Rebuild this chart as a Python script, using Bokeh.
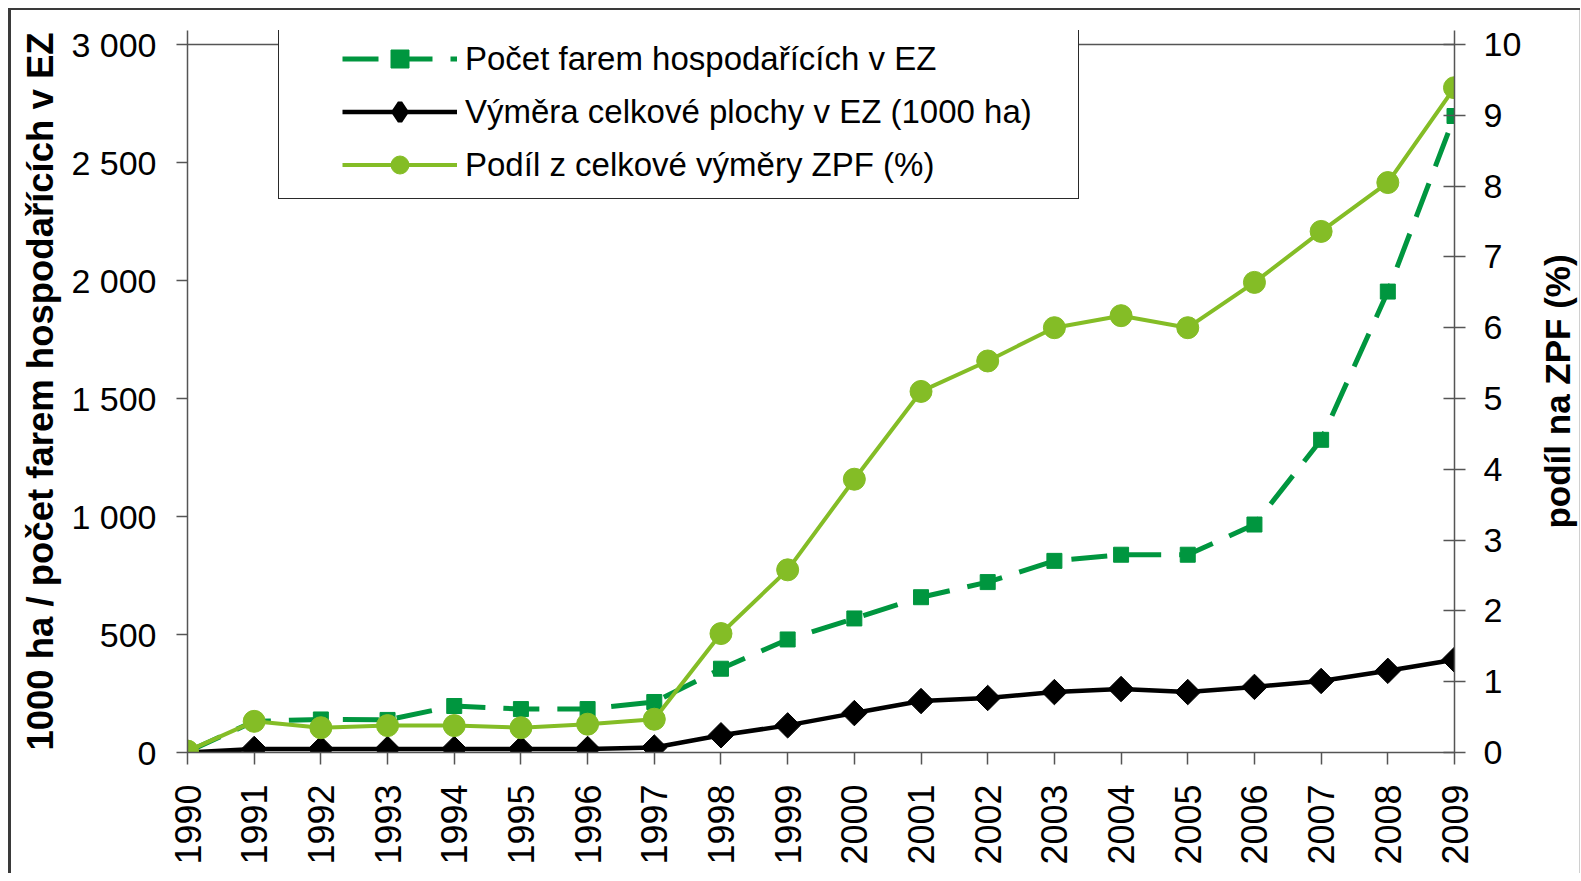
import math
from bokeh.plotting import figure
from bokeh.models import Range1d, LinearAxis, FixedTicker, Legend, LegendItem, Span
from bokeh.layouts import row
from bokeh.embed import file_html
from bokeh.resources import INLINE

# ---- data ----
years = list(range(1990, 2010))
farms = [3, 132, 140, 138, 197, 184, 184, 214, 355, 479, 568, 658, 722, 812, 838, 838, 966, 1325, 1953, 2697]
area = [0, 15, 15, 15, 15, 15, 15, 21, 73, 115, 167, 218, 231, 256, 269, 256, 278, 303, 346, 393]
share = [0.02, 0.44, 0.35, 0.38, 0.38, 0.35, 0.40, 0.47, 1.68, 2.58, 3.86, 5.10, 5.53, 6.00, 6.17, 6.00, 6.64, 7.36, 8.05, 9.39]

left_ticks = [0, 500, 1000, 1500, 2000, 2500, 3000]
left_tick_labels = ["0", "500", "1 000", "1 500", "2 000", "2 500", "3 000"]
right_ticks = [0, 1, 2, 3, 4, 5, 6, 7, 8, 9, 10]

series_labels = ["Počet farem hospodařících v EZ",
                 "Výměra celkové plochy v EZ (1000 ha)",
                 "Podíl z celkové výměry ZPF (%)"]
left_title = "1000 ha / počet farem hospodařících v EZ"
right_title = "podíl na ZPF (%)"

DG = "#00963F"
LG = "#84BD26"
AX = "#555555"
FONT = "Liberation Sans"
H = 865

# frame: 708 px for the 0..3000 scale, plus 14 px of head-room for the legend
top_factor = 722 / 708

p = figure(width=1456, height=H,
           x_range=Range1d(years[0], years[-1]),
           y_range=Range1d(0, left_ticks[-1] * top_factor),
           output_backend="svg", toolbar_location=None,
           min_border_left=118, min_border_right=68,
           min_border_top=22, min_border_bottom=121)
p.margin = (8, 0, 0, 0)
p.extra_y_ranges = {"pct": Range1d(0, right_ticks[-1] * top_factor)}
p.xgrid.visible = False
p.ygrid.visible = False
p.outline_line_color = None
p.border_fill_color = None
p.background_fill_color = None
p.styles = {"background-color": "white", "box-shadow": "inset 0 2px 0 0 #3a3a3a"}

def style_axis(ax, tin, tout, lstand, fs):
    ax.axis_line_color = AX
    ax.axis_line_width = 1.5
    ax.major_tick_line_color = AX
    ax.major_tick_line_width = 1.5
    ax.major_tick_in = tin
    ax.major_tick_out = tout
    ax.minor_tick_line_color = None
    ax.major_label_standoff = lstand
    ax.major_label_text_font = FONT
    ax.major_label_text_font_size = fs
    ax.major_label_text_color = "black"

xa = p.xaxis[0]
xa.ticker = FixedTicker(ticks=years)
xa.major_label_orientation = math.pi / 2
style_axis(xa, 0, 12, 20, "36px")

ya = p.yaxis[0]
ya.ticker = FixedTicker(ticks=left_ticks)
ya.major_label_overrides = {t: l for t, l in zip(left_ticks, left_tick_labels)}
style_axis(ya, 0, 11, 20, "34px")

ra = LinearAxis(y_range_name="pct", ticker=FixedTicker(ticks=right_ticks))
style_axis(ra, 11, 11, 18, "34px")
p.add_layout(ra, "right")

# top edge of the plot area at 3000
p.add_layout(Span(location=left_ticks[-1], dimension="width", line_color=AX, line_width=1.5))

# ---- series ----
farm_line = p.line(years, farms, line_color=DG, line_width=5, line_dash="36 18")
farm_pts = p.scatter(years, farms, marker="square", size=15, color=DG)
area_line = p.line(years, area, line_color="black", line_width=4.5)
area_leg = p.scatter(years, area, marker="diamond", size=18, color="black", line_width=5)
area_pts = p.scatter(years, area, marker="square", angle=math.pi / 4, size=18, color="black")
share_line = p.line(years, share, y_range_name="pct", line_color=LG, line_width=4)
share_pts = p.scatter(years, share, y_range_name="pct", marker="circle", size=22, color=LG)

# legend frame (a legend used as a plain box)
frame_leg = p.line(x=[], y=[], line_alpha=0)
box = Legend(items=[LegendItem(label=" ", renderers=[frame_leg])], location=(91, 553))
box.glyph_width = 799
box.glyph_height = 168
box.label_height = 168
box.label_width = 0
box.label_standoff = 0
box.padding = 0
box.margin = 0
box.spacing = 0
box.label_text_font_size = "13px"
box.border_line_color = "#2a2a2a"
box.border_line_alpha = 1.0
box.border_line_width = 1.5
box.background_fill_color = "white"
box.background_fill_alpha = 1.0
p.add_layout(box, "center")

legend = Legend(items=[
    LegendItem(label=series_labels[0], renderers=[farm_line, farm_pts]),
    LegendItem(label=series_labels[1], renderers=[area_line, area_leg]),
    LegendItem(label=series_labels[2], renderers=[share_line, share_pts]),
], location=(155, 565))
legend.glyph_width = 115
legend.glyph_height = 45
legend.label_height = 45
legend.spacing = 8
legend.padding = 0
legend.margin = 0
legend.label_standoff = 8
legend.label_text_font = FONT
legend.label_text_font_size = "33px"
legend.label_text_color = "black"
legend.border_line_alpha = 0
legend.background_fill_alpha = 0
p.add_layout(legend, "center")


def title_strip(text, width, left_border, bottom_border, size, standoff, shadow):
    f = figure(width=width, height=H, output_backend="svg", toolbar_location=None,
               x_range=Range1d(0, 1), y_range=Range1d(0, 1),
               x_axis_location=None,
               min_border_left=left_border, min_border_right=0,
               min_border_top=0, min_border_bottom=bottom_border)
    f.margin = (8, 0, 0, 0)
    f.xgrid.visible = False
    f.ygrid.visible = False
    f.outline_line_color = None
    f.border_fill_color = None
    f.background_fill_color = None
    ax = f.yaxis[0]
    ax.ticker = FixedTicker(ticks=[])
    ax.axis_line_color = None
    ax.major_tick_line_color = None
    ax.minor_tick_line_color = None
    ax.major_tick_in = 0
    ax.major_tick_out = 0
    ax.major_label_standoff = 0
    ax.axis_label = text
    ax.axis_label_standoff = standoff
    ax.axis_label_text_font = FONT
    ax.axis_label_text_font_size = size
    ax.axis_label_text_font_style = "bold"
    ax.axis_label_text_color = "black"
    f.styles = {"background-color": "white", "box-shadow": shadow}
    return f

left_strip = title_strip(left_title, 60, 52, 71, "36.5px", 0, "inset 3px 2px 0 0 #3a3a3a")
left_strip.margin = (8, 0, 0, 8)
right_strip = title_strip(right_title, 56, 51, 105, "35px", -1,
                          "inset 0 2px 0 0 #3a3a3a, inset -1px 0 0 0 #d0d0d0")

layout = row(left_strip, p, right_strip)
open("out.html", "w").write(file_html(layout, INLINE))
